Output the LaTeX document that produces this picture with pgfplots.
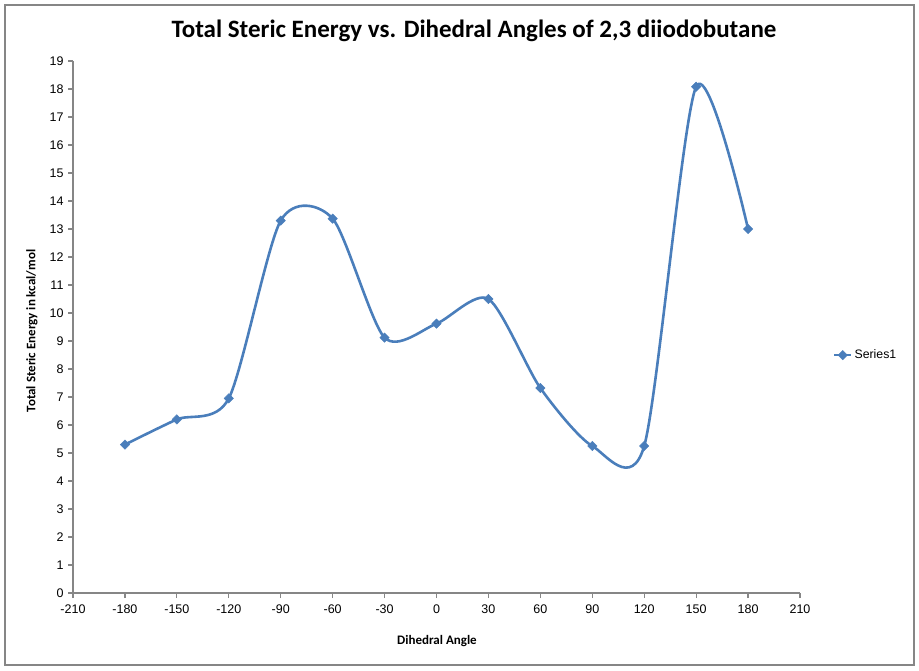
\documentclass[border=0pt]{standalone}
\usepackage{pgfplots}
\pgfplotsset{compat=1.18}
\usepackage{fontspec}
\setmainfont{Carlito}
\newfontfamily\tahoma{Liberation Sans}
\definecolor{xlblue}{RGB}{74,126,187}
\definecolor{xlgray}{RGB}{134,134,134}
\begin{document}
\begin{tikzpicture}[x=1pt,y=1pt]
\useasboundingbox (0,0) rectangle (919,670);
\draw[xlgray,line width=1.5pt] (5,5) rectangle (914,665);
\node[font=\fontsize{25}{30}\selectfont\bfseries] at (474,639) {Total Steric Energy vs. Dihedral Angles of 2,3 diiodobutane};
\node[font=\fontsize{13}{15}\selectfont\bfseries,rotate=90] at (32,339) {Total Steric Energy in kcal/mol};
\node[font=\fontsize{13}{15}\selectfont\bfseries] at (437,29) {Dihedral Angle};
\begin{axis}[
  at={(436.5pt,77pt)}, anchor=origin,
  scale only axis, width=727pt, height=532pt,
  xmin=-210, xmax=210, ymin=0, ymax=19,
  axis x line=bottom, axis y line=left,
  axis line style={xlgray,line width=1.5pt,-},
  xtick={-210,-180,...,210}, ytick={0,1,...,19},
  tick style={xlgray,line width=1.2pt},
  tick align=outside, major tick length=5pt,
  /pgf/number format/assume math mode=true,
  ticklabel style={font=\tahoma\fontsize{12.5}{14}\selectfont},
  xticklabel style={yshift=-3pt},
  yticklabel style={xshift=-1pt},
  legend style={at={(1.045,0.447)}, anchor=west, draw=none, fill=none,
    font=\tahoma\fontsize{12.3}{14}\selectfont, inner sep=0pt},
  legend cell align=left,
  clip=false,
]
\addplot[xlblue, line width=2.6pt, smooth, tension=0.45,
  mark=square*, mark size=3.3pt, mark options={rotate=45, solid, fill=xlblue, line width=0.5pt}]
  coordinates {
  (-180,5.30) (-150,6.20) (-120,6.95) (-90,13.30) (-60,13.37) (-30,9.12)
  (0,9.62) (30,10.50) (60,7.32) (90,5.25) (120,5.25) (150,18.08) (180,13.00)
  };
\addlegendentry{Series1}
\end{axis}
\end{tikzpicture}
\end{document}
